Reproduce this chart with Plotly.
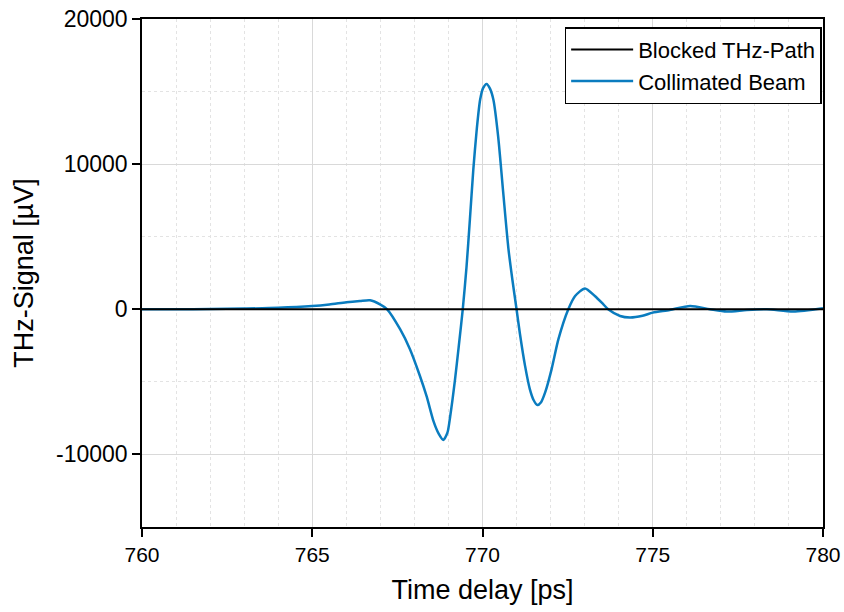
import plotly.graph_objects as go

# Time axis (ps) and signals (µV)
time_ps = [760, 761, 762, 763, 764, 765, 765.5, 766, 766.4, 766.7, 766.99,
           767.2, 767.58, 767.87, 768.16, 768.36, 768.56, 768.72, 768.85,
           768.97, 769.05, 769.19, 769.3, 769.42, 769.53, 769.63, 769.73,
           769.83, 769.93, 770.02, 770.12, 770.22, 770.32, 770.46, 770.61,
           770.76, 770.88, 771.0, 771.1, 771.25, 771.39, 771.5, 771.61, 771.72,
           771.84, 772.03, 772.23, 772.52, 772.72, 773.01, 773.3, 773.55,
           773.69, 774.04, 774.33, 774.7, 775.0, 775.5, 776.1, 776.68, 777.17,
           777.76, 778.35, 779.13, 780]

collimated_uv = [0, 0, 20, 50, 100, 220, 330, 480, 570, 620, 340,
                 0, -1375, -2750, -4580, -6000, -7700, -8600, -9000,
                 -8500, -7400, -4900, -2600, 0, 2900, 6190, 9620,
                 12370, 14430, 15250, 15530, 15200, 14430, 11900, 8000,
                 4200, 2000, 0, -1700, -3900, -5500, -6250, -6600, -6400,
                 -5730, -4120, -2060, 0, 915, 1440, 915, 340,
                 0, -460, -570, -450, -230, -50, 230, 0, -160,
                 -50, 0, -160, 70]

blocked_time_ps = [760, 780]
blocked_uv = [0, 0]

x_ticks = [760, 765, 770, 775, 780]
y_ticks = [-10000, 0, 10000, 20000]

FONT = "Liberation Sans, Arial, sans-serif"

fig = go.Figure()
fig.add_trace(go.Scatter(
    x=time_ps, y=collimated_uv, mode="lines", name="Collimated Beam",
    line=dict(color="#0a7cbf", width=2.5, shape="spline", smoothing=0.7),
    legendrank=2,
))
fig.add_trace(go.Scatter(
    x=blocked_time_ps, y=blocked_uv, mode="lines", name="Blocked THz-Path",
    line=dict(color="black", width=2), legendrank=1,
))

axis_common = dict(
    showline=True, linecolor="black", linewidth=1.5, mirror=True,
    ticks="outside", ticklen=8, tickcolor="black", tickwidth=1.5,
    showgrid=True, gridcolor="#d9d9d9", gridwidth=1,
    zeroline=False, automargin=False, ticklabeloverflow="allow",
)

fig.update_xaxes(
    **axis_common,
    tickfont=dict(family=FONT, size=21, color="black"),
    range=[760, 780], tickvals=x_ticks, ticktext=[str(v) for v in x_ticks],
    minor=dict(dtick=1, tick0=760, showgrid=True, griddash="dot",
               gridcolor="#e3e3e3", gridwidth=1, ticks=""),
    title=dict(text="Time delay [ps]", font=dict(family=FONT, size=27, color="black")),
)
fig.update_yaxes(
    **axis_common,
    tickfont=dict(family=FONT, size=23, color="black"),
    range=[-15000, 20000], tickvals=y_ticks, ticktext=[str(v) for v in y_ticks],
    minor=dict(dtick=5000, tick0=0, showgrid=True, griddash="dot",
               gridcolor="#e3e3e3", gridwidth=1, ticks=""),
    title=dict(text="THz-Signal [µV]", font=dict(family=FONT, size=27, color="black")),
)

fig.update_layout(
    width=844, height=612,
    margin=dict(l=142, r=21, t=19, b=85, autoexpand=False),
    paper_bgcolor="white", plot_bgcolor="white",
    showlegend=True,
    legend=dict(
        x=0.998, y=0.984, xanchor="right", yanchor="top",
        bgcolor="white", bordercolor="black", borderwidth=1.5,
        font=dict(family=FONT, size=22, color="black"),
        tracegroupgap=0, itemwidth=62,
    ),
)

fig.write_html(
    "out.html",
    config={"displayModeBar": False},
    post_script="document.body.style.margin='0';document.body.style.overflow='hidden';",
)
